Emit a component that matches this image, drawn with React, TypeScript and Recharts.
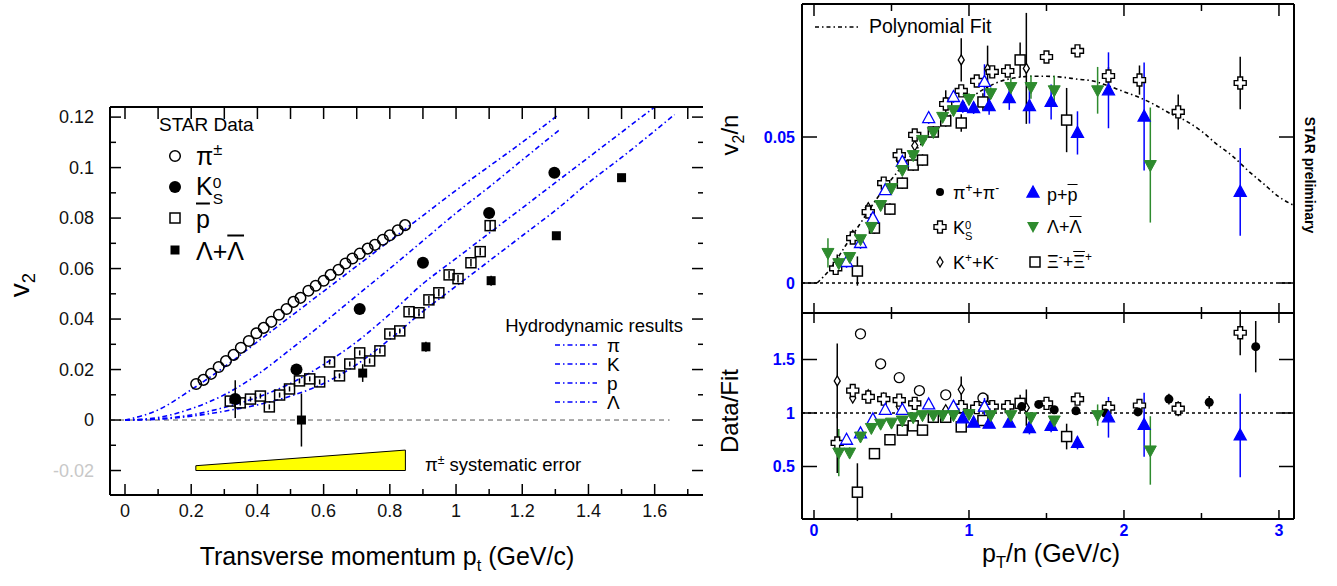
import React from "react";
import {
  ComposedChart,
  XAxis,
  YAxis,
  Scatter,
  Line,
  Area,
  ErrorBar,
  ReferenceLine,
} from "recharts";

const FONT = "'Liberation Sans', Arial, Helvetica, sans-serif";
const W = 1337;
const H = 586;
const BLUE = "#0000ff";
const GREEN = "#2e8b2e";

// ---------- left panel: v2 vs pt ----------
const pionPt = [0.215, 0.237, 0.26, 0.283, 0.305, 0.328, 0.35, 0.374, 0.397, 0.419, 0.442, 0.465, 0.488, 0.509, 0.53, 0.554, 0.576, 0.6, 0.621, 0.645, 0.666, 0.687, 0.709, 0.733, 0.755, 0.779, 0.8, 0.824, 0.846];
const pionV2 = [0.0143, 0.0159, 0.0183, 0.021, 0.0234, 0.0258, 0.0286, 0.0313, 0.0344, 0.0365, 0.0389, 0.0417, 0.044, 0.0468, 0.0484, 0.0512, 0.0532, 0.0552, 0.0575, 0.0595, 0.062, 0.064, 0.0659, 0.0679, 0.0694, 0.0714, 0.0732, 0.0752, 0.0772];

const k0Pt = [0.333, 0.518, 0.709, 0.9, 1.1, 1.297];
const k0V2 = [0.0083, 0.02, 0.044, 0.0623, 0.082, 0.098];
const k0Err = [0.0075, 0.0015, 0.001, 0.001, 0.001, 0.001];

const pbarPt = [0.318, 0.348, 0.379, 0.409, 0.436, 0.467, 0.497, 0.527, 0.558, 0.588, 0.618, 0.648, 0.679, 0.709, 0.739, 0.77, 0.8, 0.83, 0.858, 0.888, 0.918, 0.948, 0.979, 1.006, 1.045, 1.073, 1.103];
const pbarV2 = [0.0075, 0.0068, 0.0083, 0.0095, 0.0052, 0.0099, 0.0123, 0.0155, 0.0163, 0.0151, 0.023, 0.0175, 0.0222, 0.0266, 0.0234, 0.0274, 0.0341, 0.0353, 0.0429, 0.0425, 0.0476, 0.0504, 0.0575, 0.056, 0.0623, 0.0667, 0.077];
const pbarErr = [0.001, 0.001, 0.001, 0.001, 0.001, 0.001, 0.001, 0.001, 0.001, 0.001, 0.001, 0.001, 0.001, 0.001, 0.001, 0.001, 0.001, 0.001, 0.0015, 0.0015, 0.0015, 0.0015, 0.0015, 0.0015, 0.0015, 0.0015, 0.002];

const lamPt = [0.533, 0.718, 0.909, 1.106, 1.303, 1.5];
const lamV2 = [0.0, 0.0186, 0.029, 0.0552, 0.073, 0.096];
const lamErr = [0.0105, 0.0035, 0.002, 0.002, 0.0015, 0.0015];

// hydrodynamic curves
const hydroPiPt = [0, 0.1, 0.2, 0.3, 0.4, 0.5, 0.6, 0.7, 0.8, 0.9, 1.0, 1.1, 1.2, 1.31];
const hydroPiV2 = [0, 0.004, 0.012, 0.021, 0.031, 0.041, 0.051, 0.061, 0.071, 0.081, 0.091, 0.1005, 0.11, 0.121];
const hydroKPt = [0, 0.1, 0.2, 0.3, 0.4, 0.5, 0.6, 0.7, 0.8, 0.9, 1.0, 1.1, 1.2, 1.31];
const hydroKV2 = [0, 0.001, 0.0045, 0.01, 0.018, 0.028, 0.0385, 0.0493, 0.06, 0.071, 0.082, 0.0923, 0.103, 0.1147];
const hydroPPt = [0, 0.1, 0.2, 0.3, 0.4, 0.5, 0.6, 0.7, 0.8, 0.9, 1.0, 1.1, 1.2, 1.3, 1.4, 1.5, 1.6];
const hydroPV2 = [0, 0.0005, 0.002, 0.005, 0.009, 0.0145, 0.022, 0.031, 0.042, 0.054, 0.064, 0.074, 0.084, 0.094, 0.104, 0.114, 0.124];
const hydroLPt = [0, 0.1, 0.2, 0.3, 0.4, 0.5, 0.6, 0.7, 0.8, 0.9, 1.0, 1.1, 1.2, 1.3, 1.4, 1.5, 1.66];
const hydroLV2 = [0, 0.0003, 0.0015, 0.0035, 0.006, 0.0095, 0.0145, 0.022, 0.032, 0.043, 0.053, 0.063, 0.073, 0.083, 0.094, 0.104, 0.121];

// pion systematic error band
const sysPt = [0.214, 0.847];
const sysLow = [-0.02, -0.02];
const sysHigh = [-0.0181, -0.0119];

const leftXTicks = [0, 0.1, 0.2, 0.3, 0.4, 0.5, 0.6, 0.7, 0.8, 0.9, 1, 1.1, 1.2, 1.3, 1.4, 1.5, 1.6, 1.7];
const leftXMajor = [0, 0.2, 0.4, 0.6, 0.8, 1, 1.2, 1.4, 1.6];
const leftYTicks = [-0.02, -0.01, 0, 0.01, 0.02, 0.03, 0.04, 0.05, 0.06, 0.07, 0.08, 0.09, 0.1, 0.11, 0.12];
const leftYMajor = [-0.02, 0, 0.02, 0.04, 0.06, 0.08, 0.1, 0.12];

// ---------- right panel: v2/n vs pT/n ----------
const fitPt = [0.02, 0.1, 0.2, 0.3, 0.4, 0.5, 0.6, 0.7, 0.8, 0.9, 1.0, 1.1, 1.2, 1.3, 1.4, 1.5, 1.6, 1.7, 1.8, 1.9, 2.0, 2.1, 2.2, 2.3, 2.4, 2.5, 2.6, 2.7, 2.8, 2.9, 3.0, 3.1];
const fitV2 = [0, 0.0045, 0.0125, 0.0205, 0.0285, 0.0355, 0.042, 0.048, 0.053, 0.0585, 0.063, 0.0665, 0.069, 0.0703, 0.0708, 0.0708, 0.0705, 0.0698, 0.0692, 0.0675, 0.0655, 0.0635, 0.061, 0.058, 0.0555, 0.052, 0.0475, 0.0435, 0.0385, 0.034, 0.0295, 0.0265];

const ksPt = [0.14, 0.25, 0.35, 0.45, 0.55, 0.65, 0.85, 0.95, 1.05, 1.15, 1.25, 1.5, 1.7, 1.9, 2.1, 2.35, 2.75];
const ksV2 = [0.005, 0.0154, 0.0243, 0.0342, 0.0438, 0.0507, 0.0613, 0.0658, 0.0692, 0.0723, 0.0726, 0.0774, 0.0795, 0.0709, 0.0695, 0.0586, 0.0685];
const ksErr = [0.002, 0.001, 0.001, 0.001, 0.001, 0.001, 0.001, 0.001, 0.001, 0.001, 0.001, 0.001, 0.002, 0.003, 0.005, 0.006, 0.009];

const kchPt = [0.15, 0.25, 0.35, 0.45, 0.55, 0.65, 0.85, 0.95, 1.12, 1.37];
const kchV2 = [0.0068, 0.0163, 0.0258, 0.034, 0.042, 0.047, 0.062, 0.0764, 0.0733, 0.0735];
const kchErr = [0.003, 0.001, 0.001, 0.001, 0.001, 0.002, 0.004, 0.0074, 0.008, 0.019];

const pOpenPt = [0.21, 0.3, 0.38, 0.46, 0.57, 0.74, 0.9, 1.1];
const pOpenV2 = [0.0072, 0.0137, 0.0222, 0.0318, 0.0415, 0.0565, 0.0637, 0.0689];
const pOpenErr = [0.002, 0.002, 0.001, 0.001, 0.001, 0.002, 0.002, 0.006];

const pPt = [0.96, 1.03, 1.13, 1.26, 1.39, 1.53, 1.7, 1.9, 2.13, 2.75];
const pV2 = [0.0603, 0.0599, 0.0606, 0.0633, 0.0606, 0.062, 0.0514, 0.066, 0.057, 0.0312];
const pErr = [0.002, 0.002, 0.003, 0.004, 0.006, 0.006, 0.0074, 0.013, 0.0185, 0.015];

const lPt = [0.09, 0.16, 0.23, 0.3, 0.37, 0.43, 0.5, 0.57, 0.64, 0.7, 0.77, 0.83, 0.9, 1.0, 1.14, 1.27, 1.4, 1.55, 1.83, 2.17];
const lV2 = [0.0103, 0.0068, 0.0089, 0.015, 0.0192, 0.0267, 0.0325, 0.0387, 0.0438, 0.049, 0.0517, 0.0569, 0.0592, 0.063, 0.065, 0.0671, 0.0671, 0.066, 0.066, 0.0404];
const lErr = [0.005, 0.002, 0.001, 0.001, 0.001, 0.001, 0.001, 0.001, 0.001, 0.001, 0.001, 0.001, 0.001, 0.002, 0.002, 0.003, 0.004, 0.005, 0.008, 0.0197];

const xiPt = [0.28, 0.39, 0.49, 0.57, 0.64, 0.7, 0.77, 0.85, 0.95, 1.09, 1.33, 1.63];
const xiV2 = [0.0041, 0.0188, 0.0253, 0.0342, 0.0404, 0.0421, 0.0517, 0.0555, 0.0548, 0.062, 0.0764, 0.0558];
const xiErr = [0.005, 0.002, 0.002, 0.002, 0.002, 0.002, 0.002, 0.002, 0.003, 0.003, 0.006, 0.011];

// ratio panel (Data/Fit)
const rCircPt = [0.3, 0.43, 0.55, 0.68, 0.85, 1.09];
const rCirc = [1.74, 1.46, 1.33, 1.21, 1.17, 1.14];

const rKsPt = [0.15, 0.25, 0.35, 0.45, 0.55, 0.65, 0.95, 1.05, 1.15, 1.25, 1.5, 1.7, 1.9, 2.1, 2.35, 2.75];
const rKs = [0.72, 1.21, 1.15, 1.13, 1.12, 1.09, 1.06, 1.05, 1.06, 1.06, 1.09, 1.13, 1.05, 1.07, 1.04, 1.75];
const rKsErr = [0.28, 0.02, 0.02, 0.02, 0.02, 0.02, 0.02, 0.02, 0.02, 0.02, 0.02, 0.02, 0.03, 0.05, 0.07, 0.21];

const rKchPt = [0.15, 0.25, 0.35, 0.45, 0.55, 0.85, 0.95, 1.12, 1.37];
const rKch = [1.3, 1.14, 1.17, 1.14, 1.06, 1.03, 1.22, 1.07, 1.05];
const rKchErr = [0.35, 0.03, 0.03, 0.02, 0.02, 0.03, 0.12, 0.1, 0.17];

const rPOpenPt = [0.21, 0.3, 0.38, 0.46, 0.57, 0.74, 0.9, 1.1];
const rPOpen = [0.75, 0.81, 0.94, 1.03, 1.03, 1.08, 1.06, 1.06];
const rPOpenErr = [0.05, 0.03, 0.02, 0.02, 0.02, 0.02, 0.02, 0.08];

const rPPt = [0.96, 1.03, 1.13, 1.26, 1.39, 1.53, 1.7, 1.9, 2.13, 2.75];
const rP = [0.95, 0.91, 0.9, 0.91, 0.86, 0.88, 0.72, 0.96, 0.89, 0.79];
const rPErr = [0.02, 0.03, 0.04, 0.04, 0.06, 0.06, 0.06, 0.19, 0.3, 0.39];

const rLPt = [0.16, 0.23, 0.3, 0.37, 0.43, 0.5, 0.57, 0.64, 0.7, 0.77, 0.83, 0.9, 1.0, 1.14, 1.27, 1.4, 1.55, 1.83, 2.17];
const rL = [0.63, 0.63, 0.78, 0.86, 0.9, 0.91, 0.93, 0.96, 0.98, 0.98, 0.98, 0.98, 0.99, 0.98, 0.98, 0.96, 0.93, 0.98, 0.65];
const rLErr = [0.22, 0.05, 0.03, 0.02, 0.02, 0.02, 0.02, 0.02, 0.02, 0.02, 0.02, 0.02, 0.02, 0.02, 0.03, 0.03, 0.04, 0.1, 0.32];

const rXiPt = [0.28, 0.39, 0.49, 0.57, 0.64, 0.7, 0.77, 0.85, 0.95, 1.09, 1.33, 1.63];
const rXi = [0.26, 0.62, 0.75, 0.84, 0.88, 0.84, 0.96, 0.96, 0.87, 0.93, 1.09, 0.78];
const rXiErr = [0.27, 0.05, 0.03, 0.02, 0.02, 0.02, 0.02, 0.02, 0.03, 0.03, 0.08, 0.12];

const rPiPt = [1.34, 1.45, 1.55, 1.69, 1.88, 2.09, 2.29, 2.55, 2.85];
const rPi = [1.06, 1.08, 1.03, 1.02, 1.0, 1.01, 1.13, 1.1, 1.62];
const rPiErr = [0.02, 0.02, 0.02, 0.02, 0.03, 0.03, 0.05, 0.06, 0.24];

const rightXTicks = [0, 0.5, 1, 1.5, 2, 2.5, 3];
const rightXMajor = [0, 1, 2, 3];
const upperYTicks = [0, 0.05];
const lowerYTicks = [0.5, 1, 1.5];

const zip = (xs: number[], ys: number[], es?: number[]) =>
  xs.map((x, i) => ({ x, y: ys[i], e: es ? es[i] : 0 }));

// ---------- marker shapes ----------
const openCircle = (r: number, sw = 1.5) => (p: any) =>
  <circle cx={p.cx} cy={p.cy} r={r} fill="none" stroke="#000" strokeWidth={sw} />;
const fullCircle = (r: number) => (p: any) =>
  <circle cx={p.cx} cy={p.cy} r={r} fill="#000" />;
const openSquare = (s: number, fill = "none") => (p: any) =>
  <rect x={p.cx - s / 2} y={p.cy - s / 2} width={s} height={s} fill={fill} stroke="#000" strokeWidth={1.5} />;
const fullSquare = (s: number) => (p: any) =>
  <rect x={p.cx - s / 2} y={p.cy - s / 2} width={s} height={s} fill="#000" />;
const crossPath = (cx: number, cy: number) => {
  const w = 2.4, L = 6;
  return `M${cx - w},${cy - L}H${cx + w}V${cy - w}H${cx + L}V${cy + w}H${cx + w}V${cy + L}H${cx - w}V${cy + w}H${cx - L}V${cy - w}H${cx - w}Z`;
};
const openCross = (p: any) => <path d={crossPath(p.cx, p.cy)} fill="#fff" stroke="#000" strokeWidth={1.4} />;
const openDiamond = (p: any) =>
  <path d={`M${p.cx},${p.cy - 5}L${p.cx + 3},${p.cy}L${p.cx},${p.cy + 5}L${p.cx - 3},${p.cy}Z`} fill="#fff" stroke="#000" strokeWidth={1.3} />;
const triUp = (fill: string) => (p: any) =>
  <path d={`M${p.cx},${p.cy - 6.5}L${p.cx + 6},${p.cy + 4.5}L${p.cx - 6},${p.cy + 4.5}Z`} fill={fill} stroke={BLUE} strokeWidth={1.3} />;
const triDown = (p: any) =>
  <path d={`M${p.cx},${p.cy + 6.5}L${p.cx + 6},${p.cy - 4.5}L${p.cx - 6},${p.cy - 4.5}Z`} fill={GREEN} stroke={GREEN} strokeWidth={1} />;

// ---------- tick renderer ----------
type Side = "bottom" | "top" | "left" | "right";
type LabelStyle = { size: number; color: string; bold?: boolean; gap: number };
function tickFn(side: Side, majors: number[], majorLen: number, minorLen: number, label?: LabelStyle) {
  return (props: any) => {
    const { x, y, payload } = props;
    const v = Number(payload.value);
    const major = majors.some((m) => Math.abs(m - v) < 1e-9);
    const L = major ? majorLen : minorLen;
    let x2 = x, y2 = y;
    if (side === "bottom") y2 = y - L;
    if (side === "top") y2 = y + L;
    if (side === "left") x2 = x + L;
    if (side === "right") x2 = x - L;
    let txt = null;
    if (major && label) {
      const st = {
        fontFamily: FONT,
        fontSize: label.size,
        fill: v < 0 ? "#c8c8c8" : label.color,
        fontWeight: label.bold ? 700 : 400,
      } as any;
      if (side === "bottom")
        txt = <text x={x} y={y + label.gap} textAnchor="middle" style={st}>{String(v)}</text>;
      if (side === "left")
        txt = <text x={x - label.gap} y={y} dy="0.35em" textAnchor="end" style={st}>{String(v)}</text>;
    }
    return (
      <g>
        <line x1={x} y1={y} x2={x2} y2={y2} stroke="#000" strokeWidth={1.5} />
        {txt}
      </g>
    );
  };
}

const axisLine = { stroke: "#000", strokeWidth: 2 };
const axisCommon = {
  type: "number" as const,
  allowDataOverflow: true,
  interval: 0 as const,
  tickSize: 0,
  tickMargin: 0,
  tickLine: false,
};

// ---------- text helpers ----------
const Sub = ({ children }: any) => (
  <span style={{ fontSize: "0.66em", position: "relative", top: "0.35em" }}>{children}</span>
);
const Sup = ({ children }: any) => (
  <span style={{ fontSize: "0.66em", position: "relative", top: "-0.6em" }}>{children}</span>
);
const Bar = ({ children }: any) => <span style={{ textDecoration: "overline" }}>{children}</span>;
const SupSub = ({ sup, sub }: any) => (
  <span style={{ display: "inline-flex", flexDirection: "column", fontSize: "0.62em", lineHeight: 1, verticalAlign: "middle", position: "relative", top: "0.15em" }}>
    <span>{sup}</span>
    <span>{sub}</span>
  </span>
);
const Txt = ({ x, y, size, children, anchor = "start", bold = false, color = "#000", rotate = 0 }: any) => {
  const tx = anchor === "middle" ? "-50%" : anchor === "end" ? "-100%" : "0";
  return (
    <div
      style={{
        position: "absolute",
        left: x,
        top: y,
        fontSize: size,
        lineHeight: 1,
        whiteSpace: "nowrap",
        fontWeight: bold ? "bold" : "normal",
        color,
        transform: `translate(${tx}, -50%) rotate(${rotate}deg)`,
      }}
    >
      {children}
    </div>
  );
};

// plot-area box -> chart margins (each axis takes 1px)
const box = (left: number, top: number, right: number, bottom: number) => ({
  left: left - 1,
  top: top - 1,
  right: W - right - 1,
  bottom: H - bottom - 1,
});

function LeftChart() {
  const hydro = [
    zip(hydroPiPt, hydroPiV2),
    zip(hydroKPt, hydroKV2),
    zip(hydroPPt, hydroPV2),
    zip(hydroLPt, hydroLV2),
  ];
  const sys = sysPt.map((x, i) => ({ x, band: [sysLow[i], sysHigh[i]] }));
  const ids = { xAxisId: "b", yAxisId: "l" };
  return (
    <ComposedChart width={W} height={H} margin={box(110, 107, 703, 495)}>
      <XAxis {...axisCommon} xAxisId="b" dataKey="x" domain={[-0.0453, 1.746]} ticks={leftXTicks} height={1} axisLine={axisLine}
        tick={tickFn("bottom", leftXMajor, 11, 6, { size: 18, color: "#111", gap: 22 })} />
      <XAxis {...axisCommon} xAxisId="t" orientation="top" dataKey="x" domain={[-0.0453, 1.746]} ticks={leftXTicks} height={1} axisLine={axisLine}
        tick={tickFn("top", leftXMajor, 12, 12)} />
      <YAxis {...axisCommon} yAxisId="l" dataKey="y" domain={[-0.0297, 0.124]} ticks={leftYTicks} width={1} axisLine={axisLine}
        tick={tickFn("left", leftYMajor, 11, 6, { size: 18, color: "#111", gap: 16 })} />
      <YAxis {...axisCommon} yAxisId="r" orientation="right" domain={[-0.0297, 0.124]} ticks={leftYTicks} width={1} axisLine={false}
        tick={tickFn("right", leftYMajor, 11, 5)} />

      <ReferenceLine {...ids} segment={[{ x: -0.0453, y: 0 }, { x: 1.645, y: 0 }]} stroke="#555" strokeDasharray="5 4" strokeWidth={1} />

      <Area {...ids} data={sys} dataKey="band" type="linear" fill="#ffff00" fillOpacity={1} stroke="#000" strokeWidth={1} isAnimationActive={false} />
      <ReferenceLine {...ids} segment={[{ x: sysPt[0], y: sysLow[0] }, { x: sysPt[0], y: sysHigh[0] }]} stroke="#000" strokeWidth={1} />
      <ReferenceLine {...ids} segment={[{ x: sysPt[1], y: sysLow[1] }, { x: sysPt[1], y: sysHigh[1] }]} stroke="#000" strokeWidth={1} />

      {hydro.map((d, i) => (
        <Line key={i} {...ids} data={d} dataKey="y" type="monotone" dot={false} stroke={BLUE} strokeWidth={1.6}
          strokeDasharray="5 3 1.5 3" isAnimationActive={false} />
      ))}

      <Scatter {...ids} data={zip(pionPt, pionV2)} dataKey="y" shape={openCircle(5.3)} isAnimationActive={false} />
      <Scatter {...ids} data={zip(pbarPt, pbarV2, pbarErr)} dataKey="y" shape={openSquare(10)} isAnimationActive={false}>
        <ErrorBar dataKey="e" direction="y" width={0} stroke="#000" strokeWidth={1.5} />
      </Scatter>
      <Scatter {...ids} data={zip(k0Pt, k0V2, k0Err)} dataKey="y" shape={fullCircle(6)} isAnimationActive={false}>
        <ErrorBar dataKey="e" direction="y" width={0} stroke="#000" strokeWidth={1.5} />
      </Scatter>
      <Scatter {...ids} data={zip(lamPt, lamV2, lamErr)} dataKey="y" shape={fullSquare(9)} isAnimationActive={false}>
        <ErrorBar dataKey="e" direction="y" width={0} stroke="#000" strokeWidth={1.5} />
      </Scatter>
    </ComposedChart>
  );
}

function UpperChart() {
  const ids = { xAxisId: "b", yAxisId: "l" };
  const eb = (c: string) => <ErrorBar dataKey="e" direction="y" width={0} stroke={c} strokeWidth={1.5} />;
  return (
    <ComposedChart width={W} height={H} margin={box(802, 4, 1294, 313)}>
      <XAxis {...axisCommon} xAxisId="b" dataKey="x" domain={[-0.0774, 3.097]} ticks={rightXTicks} height={1} axisLine={axisLine}
        tick={tickFn("bottom", rightXMajor, 10, 6)} />
      <XAxis {...axisCommon} xAxisId="t" orientation="top" dataKey="x" domain={[-0.0774, 3.097]} ticks={rightXTicks} height={1} axisLine={axisLine}
        tick={tickFn("top", rightXMajor, 12, 7)} />
      <YAxis {...axisCommon} yAxisId="l" dataKey="y" domain={[-0.01027, 0.09555]} ticks={upperYTicks} width={1} axisLine={axisLine}
        tick={tickFn("left", upperYTicks, 15, 15, { size: 16, color: BLUE, bold: true, gap: 7 })} />
      <YAxis {...axisCommon} yAxisId="r" orientation="right" domain={[-0.01027, 0.09555]} ticks={upperYTicks} width={1} axisLine={axisLine}
        tick={tickFn("right", upperYTicks, 15, 15)} />

      <ReferenceLine {...ids} y={0} stroke="#000" strokeDasharray="3 3" strokeWidth={1.3} />
      <Line {...ids} data={zip(fitPt, fitV2)} dataKey="y" type="monotone" dot={false} stroke="#000" strokeWidth={1.6}
        strokeDasharray="4 3 1.5 3" isAnimationActive={false} />

      <Scatter {...ids} data={zip(xiPt, xiV2, xiErr)} dataKey="y" shape={openSquare(10, "#fff")} isAnimationActive={false}>{eb("#000")}</Scatter>
      <Scatter {...ids} data={zip(kchPt, kchV2, kchErr)} dataKey="y" shape={openDiamond} isAnimationActive={false}>{eb("#000")}</Scatter>
      <Scatter {...ids} data={zip(ksPt, ksV2, ksErr)} dataKey="y" shape={openCross} isAnimationActive={false}>{eb("#000")}</Scatter>
      <Scatter {...ids} data={zip(pOpenPt, pOpenV2, pOpenErr)} dataKey="y" shape={triUp("#fff")} isAnimationActive={false}>{eb(BLUE)}</Scatter>
      <Scatter {...ids} data={zip(pPt, pV2, pErr)} dataKey="y" shape={triUp(BLUE)} isAnimationActive={false}>{eb(BLUE)}</Scatter>
      <Scatter {...ids} data={zip(lPt, lV2, lErr)} dataKey="y" shape={triDown} isAnimationActive={false}>{eb(GREEN)}</Scatter>
    </ComposedChart>
  );
}

function LowerChart() {
  const ids = { xAxisId: "b", yAxisId: "l" };
  const eb = (c: string) => <ErrorBar dataKey="e" direction="y" width={0} stroke={c} strokeWidth={1.5} />;
  return (
    <ComposedChart width={W} height={H} margin={box(802, 313, 1294, 519)}>
      <XAxis {...axisCommon} xAxisId="b" dataKey="x" domain={[-0.0774, 3.097]} ticks={rightXTicks} height={1} axisLine={axisLine}
        tick={tickFn("bottom", rightXMajor, 9, 6, { size: 16, color: BLUE, bold: true, gap: 17 })} />
      <XAxis {...axisCommon} xAxisId="t" orientation="top" dataKey="x" domain={[-0.0774, 3.097]} ticks={rightXTicks} height={1} axisLine={axisLine}
        tick={tickFn("top", rightXMajor, 10, 6)} />
      <YAxis {...axisCommon} yAxisId="l" dataKey="y" domain={[0.0093, 1.9346]} ticks={lowerYTicks} width={1} axisLine={axisLine}
        tick={tickFn("left", lowerYTicks, 15, 15, { size: 16, color: BLUE, bold: true, gap: 7 })} />
      <YAxis {...axisCommon} yAxisId="r" orientation="right" domain={[0.0093, 1.9346]} ticks={lowerYTicks} width={1} axisLine={axisLine}
        tick={tickFn("right", lowerYTicks, 15, 15)} />

      <ReferenceLine {...ids} y={1} stroke="#000" strokeDasharray="3 3" strokeWidth={1.3} />

      <Scatter {...ids} data={zip(rCircPt, rCirc)} dataKey="y" shape={openCircle(5, 1.3)} isAnimationActive={false} />
      <Scatter {...ids} data={zip(rXiPt, rXi, rXiErr)} dataKey="y" shape={openSquare(10, "#fff")} isAnimationActive={false}>{eb("#000")}</Scatter>
      <Scatter {...ids} data={zip(rKchPt, rKch, rKchErr)} dataKey="y" shape={openDiamond} isAnimationActive={false}>{eb("#000")}</Scatter>
      <Scatter {...ids} data={zip(rKsPt, rKs, rKsErr)} dataKey="y" shape={openCross} isAnimationActive={false}>{eb("#000")}</Scatter>
      <Scatter {...ids} data={zip(rPiPt, rPi, rPiErr)} dataKey="y" shape={fullCircle(4.5)} isAnimationActive={false}>{eb("#000")}</Scatter>
      <Scatter {...ids} data={zip(rPOpenPt, rPOpen, rPOpenErr)} dataKey="y" shape={triUp("#fff")} isAnimationActive={false}>{eb(BLUE)}</Scatter>
      <Scatter {...ids} data={zip(rPPt, rP, rPErr)} dataKey="y" shape={triUp(BLUE)} isAnimationActive={false}>{eb(BLUE)}</Scatter>
      <Scatter {...ids} data={zip(rLPt, rL, rLErr)} dataKey="y" shape={triDown} isAnimationActive={false}>{eb(GREEN)}</Scatter>
    </ComposedChart>
  );
}

function Legends() {
  const hydroRows = [345, 364, 383, 402];
  return (
    <svg width={W} height={H} style={{ position: "absolute", left: 0, top: 0, pointerEvents: "none" }}>
      {/* left legend symbols */}
      <circle cx={175} cy={156} r={5.3} fill="none" stroke="#000" strokeWidth={1.5} />
      <circle cx={175} cy={187} r={6} fill="#000" />
      <rect x={170} y={213} width={10} height={10} fill="none" stroke="#000" strokeWidth={1.5} />
      <rect x={170.5} y={245.5} width={9} height={9} fill="#000" />
      {hydroRows.map((y) => (
        <line key={y} x1={555} x2={597} y1={y} y2={y} stroke={BLUE} strokeWidth={1.6} strokeDasharray="5 3 1.5 3" />
      ))}
      {/* right legend */}
      <line x1={815} x2={858} y1={27} y2={27} stroke="#000" strokeWidth={1.6} strokeDasharray="4 3 1.5 3" />
      <circle cx={940} cy={192} r={4} fill="#000" />
      <path d={crossPath(940, 227)} fill="#fff" stroke="#000" strokeWidth={1.4} />
      <path d={`M940,257L943,262L940,267L937,262Z`} fill="#fff" stroke="#000" strokeWidth={1.3} />
      <path d={`M1033,186L1039,197L1027,197Z`} fill={BLUE} stroke={BLUE} strokeWidth={1.3} />
      <path d={`M1033,233L1039,222L1027,222Z`} fill={GREEN} />
      <rect x={1030} y={257} width={10} height={10} fill="#fff" stroke="#000" strokeWidth={1.5} />
    </svg>
  );
}

function Texts() {
  return (
    <div style={{ position: "absolute", left: 0, top: 0, width: W, height: H, pointerEvents: "none" }}>
      {/* left panel */}
      <Txt x={20} y={285} size={28} anchor="middle" rotate={-90}>v<Sub>2</Sub></Txt>
      <Txt x={387} y={556} size={25} anchor="middle">Transverse momentum p<Sub>t</Sub> (GeV/c)</Txt>
      <Txt x={159} y={124} size={19}>STAR Data</Txt>
      <Txt x={196} y={156} size={25}>π<Sup>±</Sup></Txt>
      <Txt x={196} y={188} size={25}>K<SupSub sup="0" sub="S" /></Txt>
      <Txt x={196} y={219} size={25}><Bar>p</Bar></Txt>
      <Txt x={196} y={251} size={25}>Λ+<Bar>Λ</Bar></Txt>
      <Txt x={683} y={326} size={18.5} anchor="end">Hydrodynamic results</Txt>
      <Txt x={607} y={345} size={19}>π</Txt>
      <Txt x={607} y={364} size={19}>K</Txt>
      <Txt x={607} y={383} size={19}>p</Txt>
      <Txt x={607} y={402} size={19}>Λ</Txt>
      <Txt x={425} y={465} size={18.5}>π<Sup>±</Sup> systematic error</Txt>

      {/* right panel */}
      <Txt x={730} y={135} size={24} anchor="middle" rotate={-90}>v<Sub>2</Sub>/n</Txt>
      <Txt x={730} y={411} size={24} anchor="middle" rotate={-90}>Data/Fit</Txt>
      <Txt x={1051} y={553} size={25} anchor="middle">p<Sub>T</Sub>/n (GeV/c)</Txt>
      <Txt x={1310} y={175} size={14} anchor="middle" bold rotate={90}>STAR preliminary</Txt>
      <Txt x={869} y={27} size={19.5}>Polynomial Fit</Txt>
      <Txt x={953} y={193} size={18}>π<Sup>+</Sup>+π<Sup>-</Sup></Txt>
      <Txt x={953} y={229} size={18}>K<SupSub sup="0" sub="S" /></Txt>
      <Txt x={953} y={263} size={18}>K<Sup>+</Sup>+K<Sup>-</Sup></Txt>
      <Txt x={1047} y={195} size={18}>p+<Bar>p</Bar></Txt>
      <Txt x={1047} y={227} size={18}>Λ+<Bar>Λ</Bar></Txt>
      <Txt x={1047} y={262} size={18}>Ξ<Sup>-</Sup>+<Bar>Ξ</Bar><Sup>+</Sup></Txt>
    </div>
  );
}

export default function App() {
  return (
    <div style={{ position: "absolute", left: 0, top: 0, width: W, height: H, background: "#fff", fontFamily: FONT, overflow: "hidden" }}>
      <div style={{ position: "absolute", left: 0, top: 0 }}><LeftChart /></div>
      <div style={{ position: "absolute", left: 0, top: 0 }}><UpperChart /></div>
      <div style={{ position: "absolute", left: 0, top: 0 }}><LowerChart /></div>
      <Legends />
      <Texts />
    </div>
  );
}
